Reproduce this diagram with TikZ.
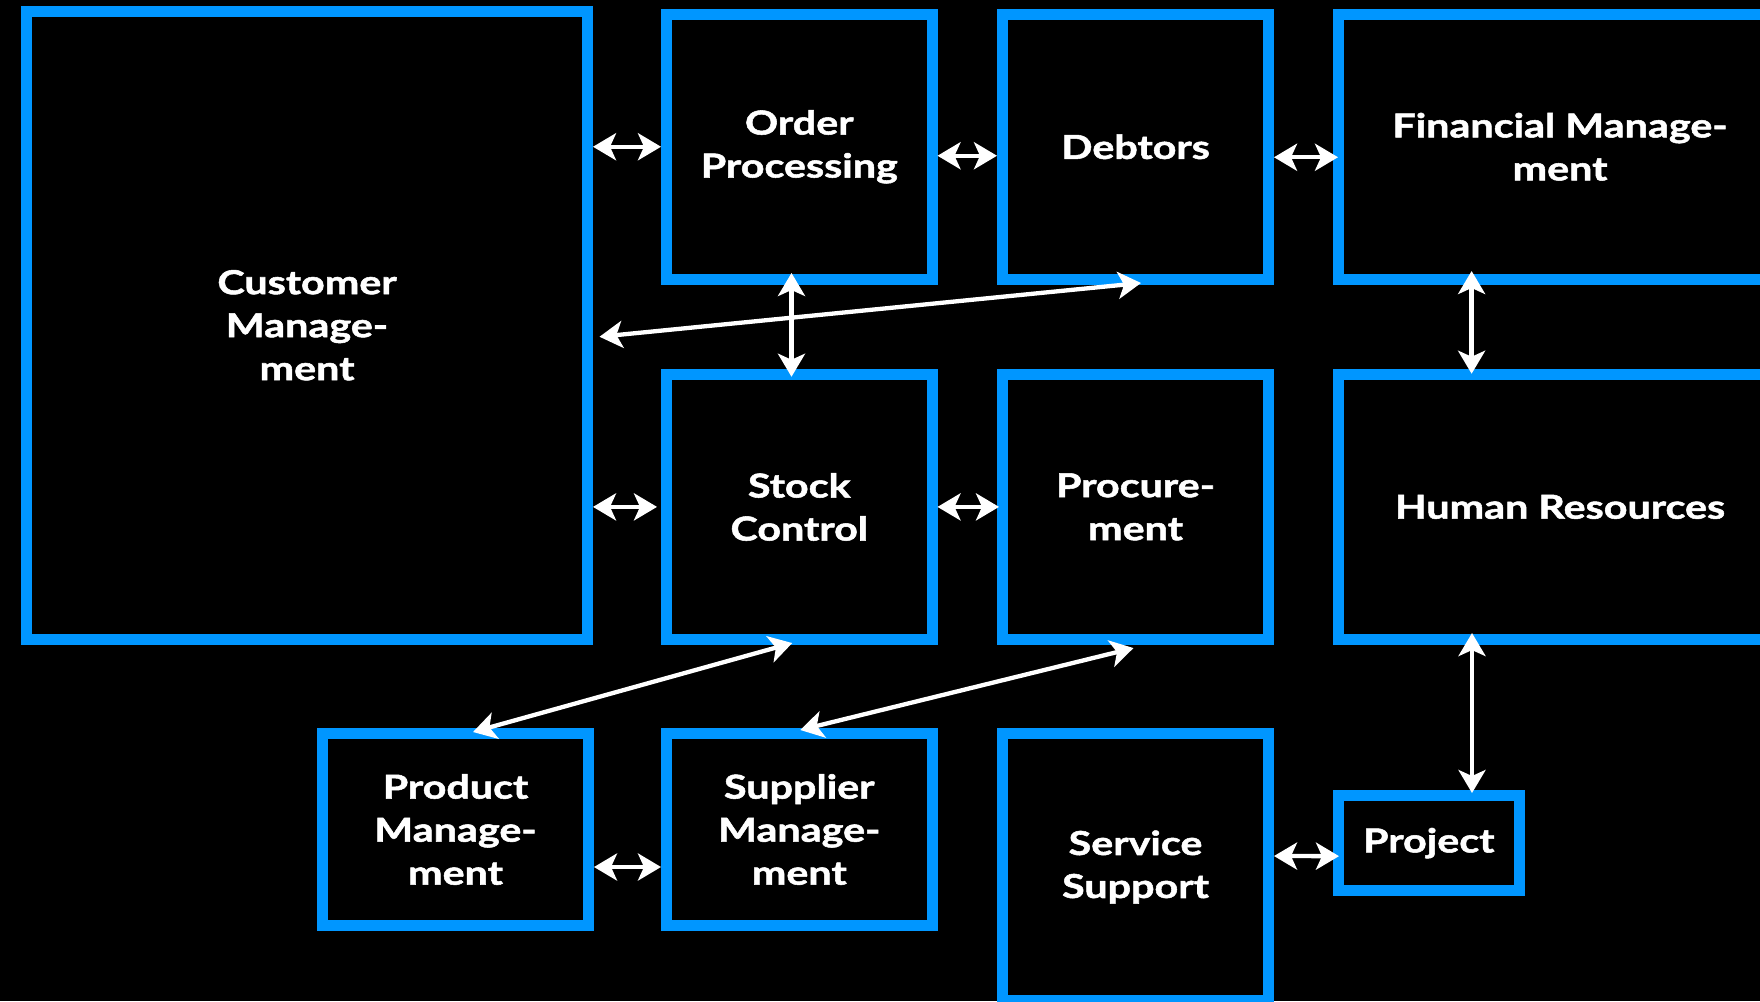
\documentclass[tikz,border=0pt]{standalone}
\usepackage{fontspec}
\setmainfont{Lato}[BoldFeatures={FakeStretch=1.25,FakeBold=1.6}]
\usetikzlibrary{arrows.meta,calc}
\definecolor{boxblue}{RGB}{0,150,255}
\tikzset{
  blk/.style={draw=boxblue, line width=11pt, fill=black, text=white, align=center,
    inner sep=0pt, font=\fontsize{33}{43}\selectfont\bfseries},
  link/.style={draw=white, line width=4.3pt,
    {Stealth[length=23pt,width=27pt,inset=6pt]}-{Stealth[length=23pt,width=27pt,inset=6pt]}}
}
\begin{document}
\begin{tikzpicture}[x=1pt,y=-1pt]
\useasboundingbox (0,0) rectangle (1760,1001);
\fill[black] (0,0) rectangle (1760,1001);
\clip (0,0) rectangle (1760,1001);
% boxes
\node[blk, minimum width=561pt, minimum height=628.5pt] (cust) at (307,325.25) {Customer\\Manage-\\ment};
\node[blk, minimum width=265.5pt, minimum height=265.5pt] (ord) at (799.25,146.75) {Order\\Processing};
\node[blk, minimum width=266pt, minimum height=265.5pt] (deb) at (1135.5,146.75) {Debtors};
\node[blk, minimum width=443pt, minimum height=265.5pt] (fin) at (1560,146.75) {Financial Manage-\\ment};
\node[blk, minimum width=265.5pt, minimum height=265.3pt] (stock) at (799.25,506.9) {Stock\\Control};
\node[blk, minimum width=266pt, minimum height=265.3pt] (proc) at (1135.5,506.9) {Procure-\\ment};
\node[blk, minimum width=443pt, minimum height=265.3pt] (hr) at (1560,506.9) {Human Resources};
\node[blk, minimum width=266pt, minimum height=192pt] (prod) at (455.5,829.5) {Product\\Manage-\\ment};
\node[blk, minimum width=265.5pt, minimum height=192pt] (sup) at (799.25,829.5) {Supplier\\Manage-\\ment};
\node[blk, minimum width=266pt, minimum height=267pt] (serv) at (1135.5,867) {Service\\Support};
\node[blk, minimum width=180.5pt, minimum height=95.3pt] (proj) at (1428.75,843.15) {Project};
% connectors
\draw[link] (cust.east |- ord.west) -- (ord.west);
\draw[link] ([yshift=-9pt]ord.east) -- ([yshift=-9pt]deb.west);
\draw[link] ([yshift=-10.5pt]deb.east) -- ([yshift=-10.5pt,xshift=5pt]fin.west);
\draw[link] ([xshift=-7.75pt,yshift=12pt]ord.south) -- ([xshift=-7.75pt,yshift=-8pt]stock.north);
\draw[link] ([xshift=5.5pt,yshift=2pt]deb.south) -- ([xshift=6.5pt,yshift=-11.5pt]cust.east);
\draw[link] ([xshift=-88.4pt,yshift=14pt]fin.south) -- ([xshift=-88.4pt,yshift=-5pt]hr.north);
\draw[link] (cust.east |- stock.west) -- ([xshift=-4pt]stock.west);
\draw[link] (stock.east) -- ([xshift=2pt]proc.west);
\draw[link] ([xshift=-7pt,yshift=2pt]stock.south) -- ([xshift=17.5pt,yshift=-4pt]prod.north);
\draw[link] ([xshift=-2pt,yshift=-3pt]proc.south) -- ([xshift=1pt,yshift=-2pt]sup.north);
\draw[link] ([xshift=-88pt,yshift=12pt]hr.south) -- ([xshift=43.25pt,yshift=-3pt]proj.north);
\draw[link] ([yshift=-37.5pt]prod.east) -- ([yshift=-37.5pt]sup.west);
\draw[link] ([yshift=11pt]serv.east) -- ([yshift=-13pt,xshift=6pt]proj.west);
\end{tikzpicture}
\end{document}
